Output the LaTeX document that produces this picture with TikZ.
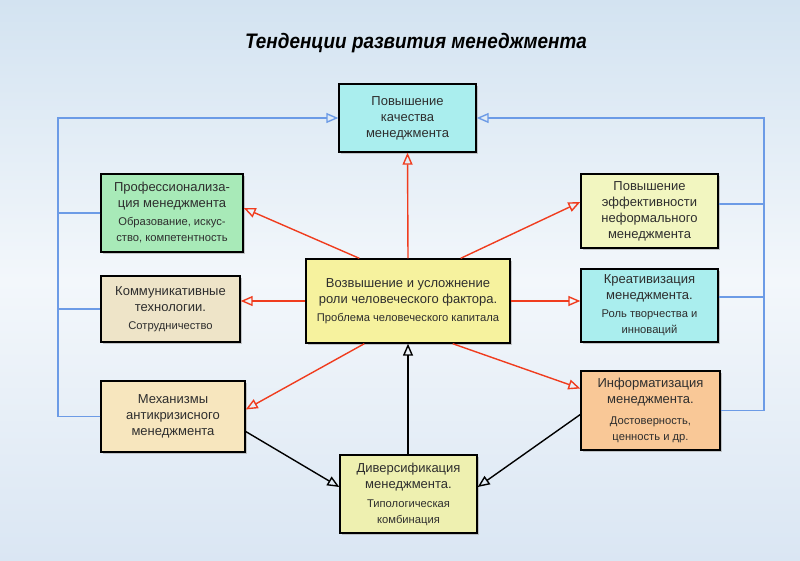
\documentclass[tikz,border=0pt]{standalone}
\usepackage{fontspec}
\setmainfont{Liberation Sans}
\usetikzlibrary{arrows.meta,calc,shadows}
\definecolor{bgtop}{HTML}{D3E3F1}
\definecolor{bgmid}{HTML}{F3F7FB}
\definecolor{bgbot}{HTML}{DAE6F3}
\definecolor{cyanbox}{HTML}{AAEEEE}
\definecolor{greenbox}{HTML}{A8EAB8}
\definecolor{beigebox}{HTML}{EEE4C8}
\definecolor{wheatbox}{HTML}{F7E6BE}
\definecolor{ylwbox}{HTML}{F2F6C0}
\definecolor{orangebox}{HTML}{F9C897}
\definecolor{centerbox}{HTML}{F6F29E}
\definecolor{divbox}{HTML}{EEF0B0}
\definecolor{txt}{HTML}{2E2E2E}
\definecolor{redline}{HTML}{F03C1E}
\definecolor{blueline}{HTML}{6C9BE6}
\tikzset{
  box/.style={draw=black, line width=1.4pt, align=center, text=txt,
    inner sep=2pt, font=\fontsize{13}{16}\selectfont,
    drop shadow={shadow xshift=2pt, shadow yshift=-2pt, fill=black!35, opacity=0.6}},
  tip/.style={-{Triangle[open,length=12pt,width=10pt,line width=1.4pt]}},
  redarr/.style={draw=redline, line width=1.4pt, tip},
  blkarr/.style={draw=black, line width=1.4pt, tip},
  blueln/.style={draw=blueline, line width=1.4pt},
  bluearr/.style={blueln, tip}
}
\newcommand{\smallsz}{\fontsize{11.2}{14}\selectfont}
\begin{document}
\begin{tikzpicture}[x=1pt,y=-1pt]
\useasboundingbox (0,0) rectangle (800,561);
\shade[top color=bgtop, bottom color=bgbot, middle color=bgmid] (0,0) rectangle (800,561);

\node[font=\bfseries\itshape\fontsize{21}{24}\selectfont, text=black, xscale=0.9] (title) at (416,43) {Тенденции развития менеджмента};

\node[box, fill=cyanbox, minimum width=137pt, minimum height=68pt] (top) at (407.5,118)
  {Повышение\\качества\\менеджмента};
\node[box, fill=greenbox, minimum width=142pt, minimum height=78pt] (prof) at (172,213)
  {Профессионализа-\\ция менеджмента\\[2pt]{\smallsz Образование, искус-}\\{\smallsz ство, компетентность}};
\node[box, fill=beigebox, minimum width=139pt, minimum height=66pt] (kom) at (170.5,309)
  {Коммуникативные\\технологии.\\[2pt]{\smallsz Сотрудничество}};
\node[box, fill=wheatbox, minimum width=144pt, minimum height=71pt] (mech) at (173,416.5)
  {Механизмы\\антикризисного\\менеджмента};
\node[box, fill=ylwbox, minimum width=137pt, minimum height=74pt] (eff) at (649.5,211)
  {Повышение\\эффективности\\неформального\\менеджмента};
\node[box, fill=cyanbox, minimum width=137pt, minimum height=73pt] (kreat) at (649.5,305.5)
  {Креативизация\\менеджмента.\\[2pt]{\smallsz Роль творчества и}\\{\smallsz инноваций}};
\node[box, fill=orangebox, minimum width=139pt, minimum height=79pt] (inf) at (650.5,410.5)
  {Информатизация\\менеджмента.\\[5pt]{\smallsz Достоверность,}\\{\smallsz ценность и др.}};
\node[box, fill=centerbox, minimum width=204pt, minimum height=84pt] (c) at (408,301)
  {Возвышение и усложнение\\роли человеческого фактора.\\[2pt]{\smallsz Проблема человеческого капитала}};
\node[box, fill=divbox, minimum width=137pt, minimum height=78pt] (div) at (408.5,494)
  {Диверсификация\\менеджмента.\\[3pt]{\smallsz Типологическая}\\{\smallsz комбинация}};

% blue feedback lines
\coordinate (L) at (58,118);
\coordinate (R) at (764,118);
\draw[bluearr] (mech.west) -- (mech.west -| L) -- (L) -- (top.west);
\draw[blueln] (prof.west) -- (prof.west -| L);
\draw[blueln] (kom.west) -- (kom.west -| L);
\draw[bluearr] (inf.east) -- (inf.east -| R) -- (R) -- (top.east);
\draw[blueln] ($(eff.east)+(0,-7)$) -- ($(eff.east -| R)+(0,-7)$);
\draw[blueln] ($(kreat.east)+(0,-8.5)$) -- ($(kreat.east -| R)+(0,-8.5)$);

% red arrows from center
\draw[redarr] (c.north) -- (top.south);
\draw[redarr] ($(c.north west)+(54,0)$) -- ($(prof.east)+(0,-5)$);
\draw[redarr] (c.west) -- (c.west -| kom.east);
\draw[redarr] ($(c.south west)+(59,0)$) -- ($(mech.east)+(0,-7)$);
\draw[redarr] ($(c.north east)+(-50,0)$) -- ($(eff.west)+(0,-9)$);
\draw[redarr] (c.east) -- (c.east -| kreat.west);
\draw[redarr] ($(c.south east)+(-58,0)$) -- ($(inf.west)+(0,-22)$);

% black arrows
\draw[blkarr] (div.north -| c.south) -- (c.south);
\draw[blkarr] ($(mech.east)+(0,15)$) -- ($(div.west)+(0,-7)$);
\draw[blkarr] ($(inf.west)+(0,4)$) -- ($(div.east)+(0,-7)$);
\end{tikzpicture}
\end{document}
